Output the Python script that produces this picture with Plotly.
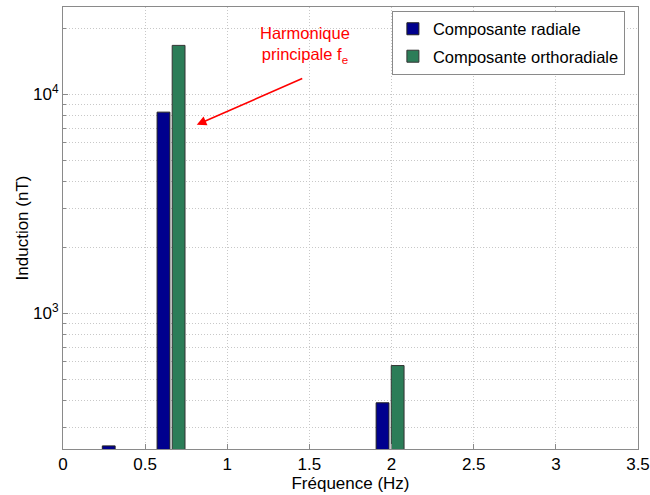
import plotly.graph_objects as go
import math

# Data
freqs = [1/3, 2/3, 2.0]
radiale = [248, 8280, 390]
orthoradiale = [None, 16700, 577]
series_names = ["Composante radiale", "Composante orthoradiale"]
y_tick_vals = [1e3, 1e4]
y_tick_text = ["10<sup>3</sup>", "10<sup>4</sup>"]
y_minor_vals = [300, 400, 500, 600, 700, 800, 900,
                2000, 3000, 4000, 5000, 6000, 7000, 8000, 9000, 20000]

FONT = "Arial, Liberation Sans, sans-serif"
BLUE = "#00008E"
GREEN = "#2C7D58"
GRID = "#c8c8c8"
AXIS = "#8a8a8a"
DOTS = "1px,2px"

fig = go.Figure()
fig.add_trace(go.Bar(x=freqs, y=radiale, name=series_names[0],
                     marker=dict(color=BLUE, line=dict(color="#222222", width=1)),
                     width=0.078, offset=-0.094, legendgroup="a"))
fig.add_trace(go.Bar(x=freqs, y=orthoradiale, name=series_names[1],
                     marker=dict(color=GREEN, line=dict(color="#333333", width=1)),
                     width=0.078, offset=-0.002, legendgroup="b"))

fig.add_annotation(x=0.814, y=math.log10(7245), xref="x", yref="y",
                   ax=107, ay=-47, axref="pixel", ayref="pixel",
                   text="", showarrow=True, arrowhead=2, arrowsize=1.2,
                   arrowwidth=1.6, arrowcolor="#ff0000")
fig.add_annotation(x=1.475, y=math.log10(16800), xref="x", yref="y",
                   text="Harmonique<br>principale f<sub>e</sub>", showarrow=False,
                   font=dict(family=FONT, size=16.5, color="#ff0000"),
                   xanchor="center", yanchor="middle", align="center")

fig.update_layout(
    width=650, height=495,
    margin=dict(l=63, r=12, t=7, b=46),
    paper_bgcolor="white", plot_bgcolor="white",
    barmode="overlay",
    font=dict(family=FONT, size=17, color="#000000"),
    legend=dict(x=0.572, y=0.992, xanchor="left", yanchor="top",
                bgcolor="white", bordercolor=AXIS, borderwidth=1,
                font=dict(family=FONT, size=16.5), tracegroupgap=3,
                traceorder="grouped"),
    showlegend=True,
)
fig.update_xaxes(range=[0, 3.5], dtick=0.5, tick0=0, automargin=False,
                 showline=True, mirror=True, linecolor=AXIS, linewidth=1,
                 ticks="inside", ticklen=5, tickcolor=AXIS,
                 ticklabeloverflow="allow",
                 showgrid=True, gridcolor=GRID, griddash=DOTS, gridwidth=1,
                 zeroline=False,
                 title=dict(text="Fréquence (Hz)", standoff=2, font=dict(size=17)),
                 tickfont=dict(size=17))
fig.update_yaxes(type="log", range=[math.log10(240), math.log10(25000)],
                 tickvals=y_tick_vals, ticktext=y_tick_text, automargin=False,
                 showline=True, mirror=True, linecolor=AXIS, linewidth=1,
                 ticks="inside", ticklen=5, tickcolor=AXIS,
                 showgrid=True, gridcolor=GRID, griddash=DOTS, gridwidth=1,
                 minor=dict(tickvals=y_minor_vals, showgrid=True, gridcolor=GRID,
                            griddash=DOTS, gridwidth=1, ticks="inside", ticklen=3,
                            tickcolor=AXIS),
                 title=dict(text="Induction (nT)", standoff=0, font=dict(size=17)),
                 tickfont=dict(size=17), zeroline=False)

fig.write_html("out.html", config={"displayModeBar": False},
               post_script="document.body.style.margin='0';")
